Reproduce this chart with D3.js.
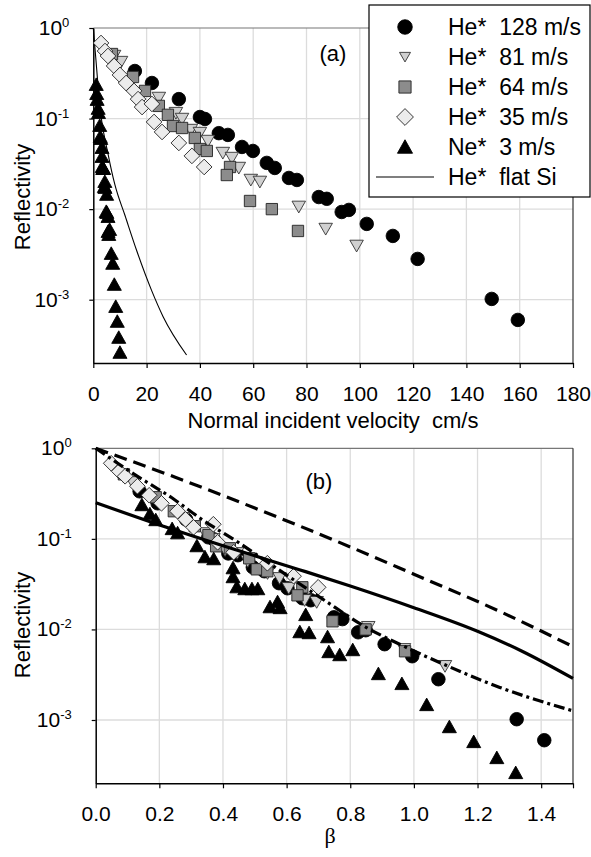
<!DOCTYPE html>
<html>
<head>
<meta charset="utf-8">
<script src="https://cdn.jsdelivr.net/npm/d3@7/dist/d3.min.js"></script>
<style>
  body { margin: 0; background: #fff; }
  svg { display: block; font-family: "Liberation Sans", Arial, sans-serif; }
</style>
</head>
<body>
<svg id="chart" width="591" height="857"></svg>
<script>
const SVG = d3.select('#chart');

// DATA (velocity in cm/s, reflectivity)
const HE128_V = [15.6, 22.0, 32.1, 40.0, 41.9, 47.1, 50.5, 55.8, 59.9, 65.1, 68.1, 73.4, 76.4, 84.6, 87.6, 93.2, 95.9, 102.6, 112.4, 121.7, 149.5, 159.3];
const HE128_R = [0.335, 0.247, 0.164, 0.104, 0.099, 0.069, 0.066, 0.0486, 0.0439, 0.0324, 0.0285, 0.0221, 0.0210, 0.0136, 0.0130, 0.0093, 0.0098, 0.00687, 0.00506, 0.00282, 0.00102, 0.000598];

const HE81_V = [7.8, 10.4, 24.6, 31.0, 33.3, 36.6, 40.0, 43.0, 48.6, 52.0, 54.6, 59.1, 62.5, 77.1, 87.2, 98.8];
const HE81_R = [0.491, 0.421, 0.169, 0.115, 0.099, 0.0748, 0.0693, 0.0566, 0.0417, 0.0367, 0.0285, 0.0210, 0.0200, 0.0106, 0.00604, 0.00393];

const HE64_V = [7.0, 14.9, 19.4, 24.6, 28.0, 29.9, 33.3, 38.1, 40.0, 42.6, 51.3, 50.1, 58.8, 67.0, 76.8];
const HE64_R = [0.516, 0.288, 0.202, 0.138, 0.110, 0.0828, 0.0787, 0.0611, 0.0461, 0.0439, 0.0292, 0.0238, 0.0123, 0.0100, 0.00574];

const HE35_V = [2.9, 4.4, 5.5, 7.8, 10.0, 12.3, 15.3, 16.8, 18.3, 22.0, 22.8, 25.8, 32.1, 37.0, 41.6];
const HE35_R = [0.683, 0.557, 0.491, 0.381, 0.303, 0.247, 0.202, 0.164, 0.134, 0.145, 0.0917, 0.0711, 0.0538, 0.0387, 0.0292];

const NE3_V = [1.10, 1.29, 1.43, 1.82, 1.95, 2.41, 2.60, 2.81, 3.27, 3.27, 3.36, 3.55, 3.72, 3.86, 4.15, 4.33, 4.39, 5.00, 4.86, 5.08, 5.52, 5.55, 5.81, 6.12, 6.73, 7.29, 7.88, 8.42, 9.00, 9.55, 10.0];
const NE3_R = [0.237, 0.188, 0.162, 0.129, 0.116, 0.0835, 0.0631, 0.0600, 0.0477, 0.0380, 0.0294, 0.0280, 0.0280, 0.0280, 0.0177, 0.0201, 0.0173, 0.0145, 0.00938, 0.00915, 0.00826, 0.00565, 0.00523, 0.00594, 0.00323, 0.00251, 0.00147, 0.000839, 0.000574, 0.000382, 0.000261];

// beta per cm/s of normal velocity, one per beam
const BETA_SCALE = { he128: 1 / 113, he81: 1 / 90, he64: 1 / 79, he35: 1 / 59.5, ne3: 0.132 };

const FLAT_SI_V = [0, 1.0, 2.5, 5.6, 8.1, 11.9, 16.3, 21.9, 26.2, 35.0];
const FLAT_SI_R = [1, 0.44, 0.132, 0.0398, 0.0186, 0.0085, 0.00347, 0.00126, 0.00065, 0.000245];

const DASH_BETA = [0, 0.25, 0.5, 0.76, 1.0, 1.27, 1.5];
const DASH_R = [1, 0.479, 0.219, 0.0933, 0.0407, 0.0158, 0.00646];

const SOLID_BETA = [0, 0.22, 0.43, 0.64, 0.80, 1.0, 1.2, 1.34, 1.5];
const SOLID_R = [0.251, 0.135, 0.0776, 0.0457, 0.0302, 0.0174, 0.00955, 0.00575, 0.00288];

const DASHDOT_BETA = [0, 0.118, 0.249, 0.327, 0.453, 0.537, 0.715, 0.851, 0.977, 1.11, 1.27, 1.5];
const DASHDOT_R = [1, 0.525, 0.269, 0.170, 0.0891, 0.0562, 0.0214, 0.0105, 0.00631, 0.00389, 0.00229, 0.00126];

const X_TICKS_A = [0, 20, 40, 60, 80, 100, 120, 140, 160, 180];
const X_TICKS_B = [0, 0.2, 0.4, 0.6, 0.8, 1.0, 1.2, 1.4];
const Y_TICKS = [1, 0.1, 0.01, 0.001];
const Y_TICK_EXP = ['0', '-1', '-2', '-3'];

const LEGEND_LABELS = ['He*  128 m/s', 'He*  81 m/s', 'He*  64 m/s', 'He*  35 m/s', 'Ne*  3 m/s', 'He*  flat Si'];

const SERIES = [
  { key: 'he128', v: HE128_V, r: HE128_R, shape: 'circle', fill: '#000', stroke: '#000' },
  { key: 'he81', v: HE81_V, r: HE81_R, shape: 'down', fill: '#d0d0d0', stroke: '#333' },
  { key: 'he64', v: HE64_V, r: HE64_R, shape: 'square', fill: '#8c8c8c', stroke: '#222' },
  { key: 'he35', v: HE35_V, r: HE35_R, shape: 'diamond', fill: '#ececec', stroke: '#222' },
  { key: 'ne3', v: NE3_V, r: NE3_R, shape: 'up', fill: '#000', stroke: '#000' }
];

// FUNCTIONS

function markerPath(shape, s) {
  const p = d3.path();
  if (shape === 'circle') {
    p.arc(0, 0, s * 0.5, 0, 2 * Math.PI);
  } else if (shape === 'square') {
    p.rect(-s * 0.42, -s * 0.42, s * 0.84, s * 0.84);
  } else if (shape === 'diamond') {
    const h = s * 0.58;
    p.moveTo(0, -h); p.lineTo(h, 0); p.lineTo(0, h); p.lineTo(-h, 0);
  } else if (shape === 'up') {
    p.moveTo(0, -s * 0.5); p.lineTo(s * 0.52, s * 0.43); p.lineTo(-s * 0.52, s * 0.43);
  } else if (shape === 'down') {
    p.moveTo(-s * 0.5, -s * 0.42); p.lineTo(s * 0.5, -s * 0.42); p.lineTo(0, s * 0.45);
  }
  p.closePath();
  return p.toString();
}

function drawFrame(g, x, y, ticks, tickFormat) {
  const [x0, x1] = x.range();
  const [y0, y1] = y.range();

  g.append('g').selectAll('line.vgrid')
    .data(ticks.slice(1, -1))
    .join('line')
    .attr('x1', d => x(d)).attr('x2', d => x(d))
    .attr('y1', y0).attr('y2', y1)
    .attr('stroke', '#dcdcdc').attr('stroke-width', 1.3);

  g.append('g').selectAll('line.hgrid')
    .data(Y_TICKS.slice(1))
    .join('line')
    .attr('x1', x0).attr('x2', x1)
    .attr('y1', d => y(d)).attr('y2', d => y(d))
    .attr('stroke', '#dcdcdc').attr('stroke-width', 1.3);

  g.append('line').attr('x1', x0).attr('x2', x1).attr('y1', y1).attr('y2', y1)
    .attr('stroke', '#777').attr('stroke-width', 1.2);
  g.append('line').attr('x1', x1).attr('x2', x1).attr('y1', y1).attr('y2', y0)
    .attr('stroke', '#333').attr('stroke-width', 1.2);

  const xAxis = g.append('g')
    .attr('transform', `translate(0,${y0})`)
    .call(d3.axisBottom(x).tickValues(ticks).tickSize(5).tickSizeOuter(0).tickFormat(tickFormat));
  xAxis.select('.domain').attr('stroke', '#000').attr('stroke-width', 1.5);
  xAxis.selectAll('.tick line').attr('stroke', '#000').attr('stroke-width', 1.2);
  xAxis.selectAll('.tick text')
    .attr('font-size', 21).attr('fill', '#000').attr('y', 0).attr('dy', 0)
    .attr('transform', 'translate(0,38)');

  const yAxis = g.append('g')
    .attr('transform', `translate(${x0},0)`)
    .call(d3.axisLeft(y).tickValues(Y_TICKS).tickSize(4).tickSizeOuter(0).tickFormat(''));
  yAxis.select('.domain').attr('stroke', '#000').attr('stroke-width', 1.5);
  yAxis.selectAll('.tick line').attr('stroke', '#000').attr('stroke-width', 1.2);

  const labels = g.append('g').selectAll('text')
    .data(Y_TICKS)
    .join('text')
    .attr('x', x0 - 24)
    .attr('y', d => y(d) + 7)
    .attr('text-anchor', 'end')
    .attr('font-size', 21);
  labels.append('tspan').text('10');
  labels.append('tspan')
    .attr('font-size', 13)
    .attr('dy', -8)
    .text((d, i) => Y_TICK_EXP[i]);
}

function drawMarkers(g, x, y, xOf, size) {
  SERIES.forEach(s => {
    g.append('g').selectAll('path')
      .data(s.v.map((v, i) => ({ v: v, r: s.r[i], key: s.key })))
      .join('path')
      .attr('transform', d => `translate(${x(xOf(d))},${y(d.r)})`)
      .attr('d', markerPath(s.shape, size))
      .attr('fill', s.fill)
      .attr('stroke', s.stroke)
      .attr('stroke-width', 0.9);
  });
}

function drawLine(g, x, y, xs, ys, width, dash) {
  const line = d3.line()
    .x(d => x(d[0]))
    .y(d => y(d[1]))
    .curve(d3.curveMonotoneX);
  g.append('path')
    .datum(xs.map((v, i) => [v, ys[i]]))
    .attr('d', line)
    .attr('fill', 'none')
    .attr('stroke', '#000')
    .attr('stroke-width', width)
    .attr('stroke-dasharray', dash);
}

function yLabel(cx, cy) {
  SVG.append('text')
    .attr('transform', `translate(${cx},${cy}) rotate(-90)`)
    .attr('text-anchor', 'middle')
    .attr('font-size', 22)
    .text('Reflectivity');
}

// PANEL (a)
const xA = d3.scaleLinear().domain([0, 180]).range([93.3, 573]);
const yA = d3.scaleLog().domain([2e-4, 1]).range([363, 28]);
const gA = SVG.append('g');

drawFrame(gA, xA, yA, X_TICKS_A, d3.format('d'));
drawLine(gA, xA, yA, FLAT_SI_V, FLAT_SI_R, 1.1, null);
drawMarkers(gA, xA, yA, d => d.v, 13.5);

gA.append('text').attr('x', 333).attr('y', 61).attr('text-anchor', 'middle')
  .attr('font-size', 22).text('(a)');

gA.append('text')
  .attr('x', 333).attr('y', 428)
  .attr('text-anchor', 'middle')
  .attr('font-size', 22)
  .style('white-space', 'pre')
  .text('Normal incident velocity  cm/s');

yLabel(30, 197);

// legend
const legend = SVG.append('g');
legend.append('rect')
  .attr('x', 369).attr('y', 5).attr('width', 221).attr('height', 192)
  .attr('fill', '#fff').attr('stroke', '#000').attr('stroke-width', 1.2);

const legendRows = legend.selectAll('g.row')
  .data(LEGEND_LABELS)
  .join('g')
  .attr('transform', (d, i) => `translate(0,${27 + i * 30})`);

legendRows.filter((d, i) => i < SERIES.length)
  .append('path')
  .attr('transform', 'translate(405,0)')
  .attr('d', (d, i) => markerPath(SERIES[i].shape, SERIES[i].shape === 'down' ? 11 : 14.5))
  .attr('fill', (d, i) => SERIES[i].fill)
  .attr('stroke', (d, i) => SERIES[i].stroke)
  .attr('stroke-width', 0.9);

legendRows.filter((d, i) => i === SERIES.length)
  .append('line')
  .attr('x1', 376).attr('x2', 434).attr('y1', 0).attr('y2', 0)
  .attr('stroke', '#000').attr('stroke-width', 1.1);

legendRows.append('text')
  .attr('x', 448).attr('y', 8)
  .attr('font-size', 23)
  .style('white-space', 'pre')
  .text(d => d);

// PANEL (b)
const xB = d3.scaleLinear().domain([0, 1.5]).range([95.7, 573]);
const yB = d3.scaleLog().domain([2e-4, 1]).range([783.3, 448.3]);
const gB = SVG.append('g');

drawFrame(gB, xB, yB, X_TICKS_B.concat([1.5]), d => d > 1.45 ? '' : d3.format('.1f')(d));
drawMarkers(gB, xB, yB, d => d.v * BETA_SCALE[d.key], 13.5);
drawLine(gB, xB, yB, DASH_BETA, DASH_R, 3.2, '13,7');
drawLine(gB, xB, yB, SOLID_BETA, SOLID_R, 3.2, null);
drawLine(gB, xB, yB, DASHDOT_BETA, DASHDOT_R, 3.2, '11,4,3,4');

gB.append('text').attr('x', 319).attr('y', 489).attr('text-anchor', 'middle')
  .attr('font-size', 22).text('(b)');

gB.append('text')
  .attr('x', 330).attr('y', 843)
  .attr('text-anchor', 'middle')
  .attr('font-family', '"Liberation Serif", "Times New Roman", serif')
  .attr('font-size', 22)
  .text('β');

yLabel(30, 625);
</script>
</body>
</html>
